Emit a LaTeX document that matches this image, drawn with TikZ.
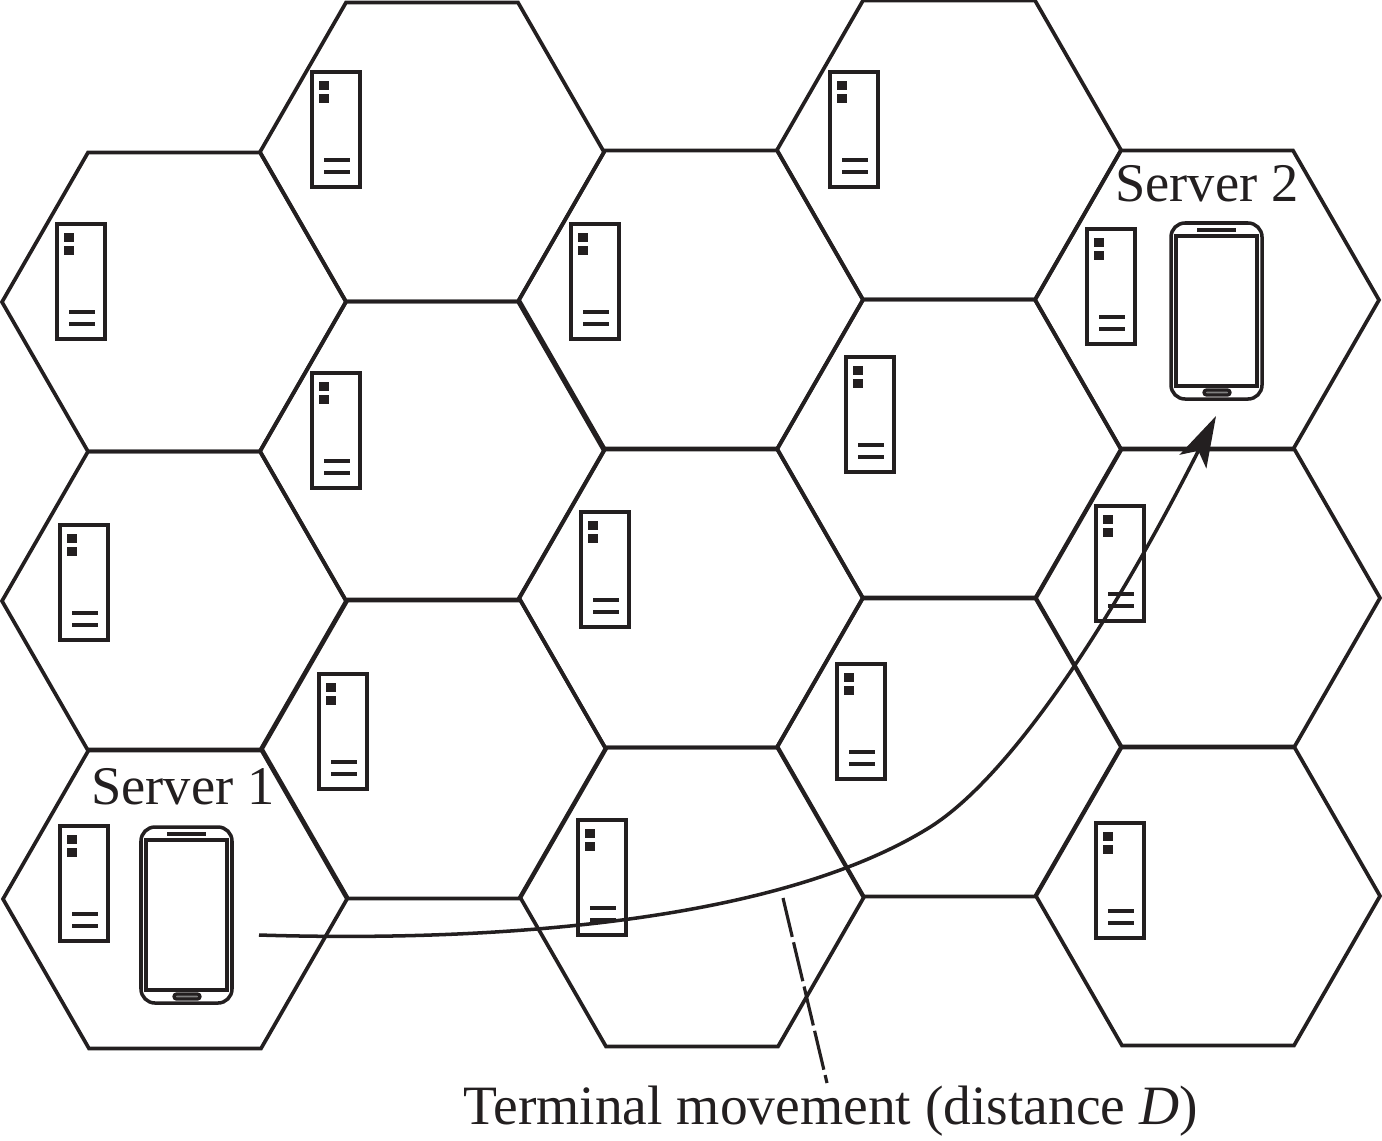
\documentclass[tikz,border=0pt]{standalone}
\usepackage{fontspec}
\setmainfont{Liberation Serif}
\usetikzlibrary{arrows.meta}

\definecolor{inkdark}{HTML}{231F20}

\tikzset{
	hexline/.style={draw=inkdark, line width=2.1pt, line join=miter},
	srvline/.style={draw=inkdark, line width=1.85pt},
	phoneline/.style={draw=inkdark, line width=2pt},
	caption/.style={text=inkdark, anchor=base west, inner sep=0pt, font=\fontsize{31}{36}\selectfont},
}

\begin{document}
\begin{tikzpicture}[x=0.02cm, y=-0.02cm, >=Stealth]
				\useasboundingbox (0,0) rectangle (1382,1140);

				% Hexagon cells
				\foreach \cx/\cy in {174/302, 174/601, 175/899, 432/152, 432/451, 434/749,
						691/300, 691/598, 692/897, 949/150, 949/449, 949/747,
						1207/300, 1208/598, 1208/896}
					\draw[hexline] (\cx-172,\cy) -- (\cx-86,\cy-149.5) -- (\cx+86,\cy-149.5)
						-- (\cx+172,\cy) -- (\cx+86,\cy+149.5) -- (\cx-86,\cy+149.5) -- cycle;

				% Servers
				\foreach \sx/\sy in {312/72, 830/72, 57/224, 571/224, 1087/229, 312/373, 846/357,
						60/525, 581/512, 1096/506, 319/674, 837/664, 60/826, 578/820, 1096/823} {
					\draw[srvline] (\sx,\sy) rectangle ++(48,115);
					\fill[inkdark] (\sx+7,\sy+9) rectangle ++(10,9);
					\fill[inkdark] (\sx+7,\sy+22) rectangle ++(10,9);
					\draw[srvline] (\sx+12,\sy+88) -- ++(26,0);
					\draw[srvline] (\sx+12,\sy+100) -- ++(26,0);
				}

				% Terminals
				\foreach \px/\py in {141/827, 1171/223} {
					\draw[phoneline, rounded corners=0.28cm] (\px,\py) rectangle ++(91,176);
					\draw[srvline] (\px+5,\py+13) rectangle ++(81,150);
					\draw[srvline] (\px+26,\py+7) -- ++(39,0);
					\draw[srvline, fill=gray, rounded corners=0.05cm] (\px+33,\py+167) rectangle ++(26,5);
				}

				\node[caption] (serverone) at (91,804) {Server 1};
				\node[caption] (servertwo) at (1115,201) {Server 2};
				\node[caption, font=\fontsize{31.6}{36}\selectfont] (movelabel) at (463,1124) {Terminal movement (distance \textit{D})};

				% Movement path
				\coordinate (movestart) at (259,935);
				\coordinate (movebend) at (927,829);
				\coordinate (movetip) at (1216,416);
				\draw[->, inkdark, line width=2pt, >={Stealth[length=1.02cm, width=0.6cm, inset=0.24cm]}]
					(movestart) .. controls (480,942) and (770,925) .. (movebend)
					.. controls (1005,782) and (1105,635) .. (movetip);

				% Leader line
				\coordinate (leadtop) at (783,898);
				\coordinate (leadend) at (827,1083);
				\draw[inkdark, line width=1.8pt, dash pattern=on 0.8cm off 0.11cm] (leadtop) -- (leadend);
			\end{tikzpicture}
\end{document}
